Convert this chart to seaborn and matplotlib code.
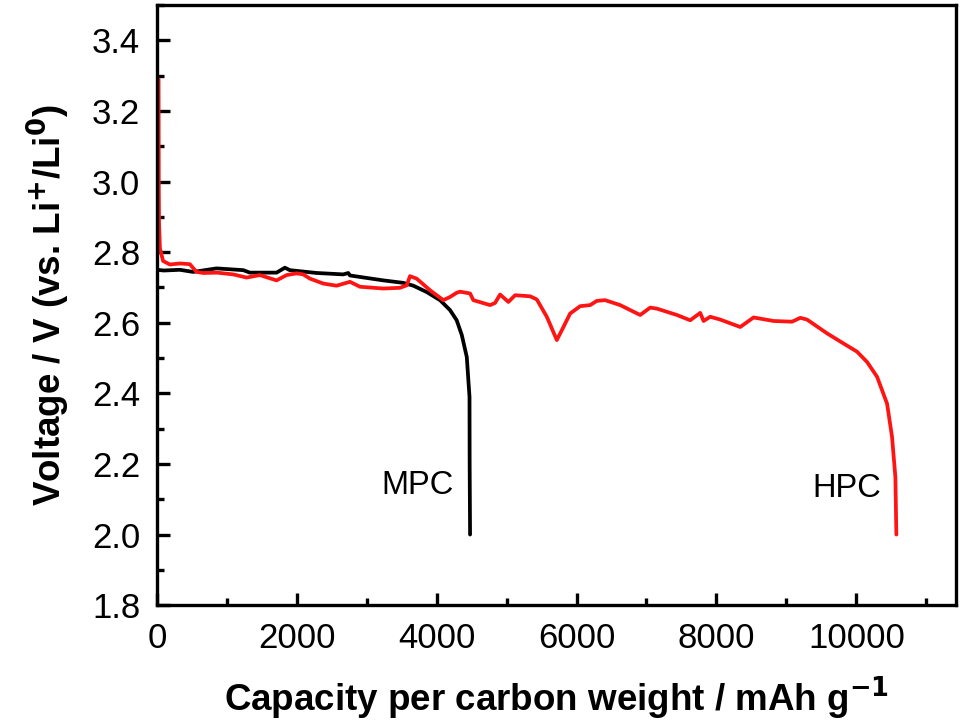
import numpy as np
import pandas as pd
import matplotlib
matplotlib.use("Agg")
import matplotlib.pyplot as plt
import seaborn as sns
from matplotlib.ticker import MultipleLocator

# HPC discharge curve (red)
hpc_cap = [25, 28, 32, 45, 90, 186, 330, 472, 568, 663, 860, 1092, 1283, 1473,
           1712, 1855, 1998, 2093, 2189, 2380, 2570, 2761, 2904, 3238, 3476,
           3572, 3619, 3715, 3906, 4096, 4191, 4287, 4335, 4478, 4525, 4764,
           4835, 4907, 5026, 5122, 5336, 5432, 5575, 5718, 5813, 5908, 6052,
           6195, 6290, 6409, 6624, 6910, 7053, 7149, 7435, 7625, 7768, 7816,
           7911, 8054, 8340, 8531, 8817, 9080, 9199, 9295, 9581, 9819, 10010,
           10153, 10296, 10439, 10510, 10558, 10572]
hpc_volt = [3.29, 3.00, 2.88, 2.81, 2.775, 2.765, 2.768, 2.766, 2.744, 2.741,
            2.742, 2.737, 2.728, 2.735, 2.720, 2.735, 2.740, 2.737, 2.725,
            2.711, 2.705, 2.716, 2.702, 2.697, 2.699, 2.706, 2.732, 2.725,
            2.692, 2.664, 2.673, 2.685, 2.688, 2.683, 2.664, 2.650, 2.656,
            2.680, 2.659, 2.678, 2.675, 2.666, 2.617, 2.551, 2.588, 2.626,
            2.647, 2.650, 2.662, 2.664, 2.650, 2.622, 2.643, 2.640, 2.622,
            2.607, 2.628, 2.605, 2.617, 2.609, 2.588, 2.615, 2.605, 2.603,
            2.614, 2.609, 2.570, 2.541, 2.518, 2.489, 2.447, 2.371, 2.277,
            2.163, 2.000]

# MPC discharge curve (black)
mpc_cap = [0, 100, 330, 520, 854, 1235, 1330, 1712, 1831, 1902, 2284, 2666,
           2737, 2760, 3238, 3524, 3667, 3858, 4049, 4191, 4287, 4360, 4431,
           4470, 4472, 4478]
mpc_volt = [2.750, 2.748, 2.750, 2.744, 2.754, 2.749, 2.742, 2.742, 2.756,
            2.749, 2.741, 2.737, 2.741, 2.734, 2.720, 2.713, 2.705, 2.687,
            2.664, 2.636, 2.607, 2.565, 2.503, 2.390, 2.200, 2.000]

sns.set_theme(style="ticks")
plt.rcParams['font.family'] = ['Liberation Sans', 'DejaVu Sans']
plt.rcParams['text.color'] = 'black'
plt.rcParams['axes.labelcolor'] = 'black'

fig = plt.figure(figsize=(9.68, 7.23), dpi=100)
ax = fig.add_axes([0.162, 0.163, 0.826, 0.830])

hpc = pd.DataFrame({"cap": hpc_cap, "volt": hpc_volt})
mpc = pd.DataFrame({"cap": mpc_cap, "volt": mpc_volt})

sns.lineplot(data=mpc, x="cap", y="volt", sort=False, estimator=None,
             color="black", linewidth=2.7, ax=ax)
sns.lineplot(data=hpc, x="cap", y="volt", sort=False, estimator=None,
             color="#ff1414", linewidth=2.7, ax=ax)

ax.text(3730, 2.14, "MPC", fontsize=23.5, ha="center", va="center", color="black")
ax.text(9870, 2.13, "HPC", fontsize=23.5, ha="center", va="center", color="black")

ax.set_xlim(0, 11430)
ax.set_ylim(1.8, 3.5)
ax.xaxis.set_major_locator(MultipleLocator(2000))
ax.xaxis.set_minor_locator(MultipleLocator(1000))
ax.yaxis.set_major_locator(MultipleLocator(0.2))
ax.yaxis.set_minor_locator(MultipleLocator(0.1))
ax.yaxis.set_major_formatter(matplotlib.ticker.FormatStrFormatter('%.1f'))

for s in ax.spines.values():
    s.set_linewidth(2.4)
    s.set_color("black")
ax.tick_params(which="both", direction="in", width=2.4, colors="black",
               labelcolor="black", labelsize=25, top=False, right=False)
ax.tick_params(which="major", length=9)
ax.tick_params(which="minor", length=5)
ax.tick_params(axis="y", pad=12)
ax.tick_params(axis="x", pad=12)

ax.set_xlabel("Capacity per carbon weight / mAh g$^{\\mathbf{-1}}$",
              fontsize=26.5, fontweight="bold", labelpad=14)
ax.set_ylabel("Voltage / V (vs. Li$^{\\mathbf{+}}$/Li$^{\\mathbf{0}}$)",
              fontsize=26.5, fontweight="bold", labelpad=14)

fig.savefig("out.png", dpi=100)
